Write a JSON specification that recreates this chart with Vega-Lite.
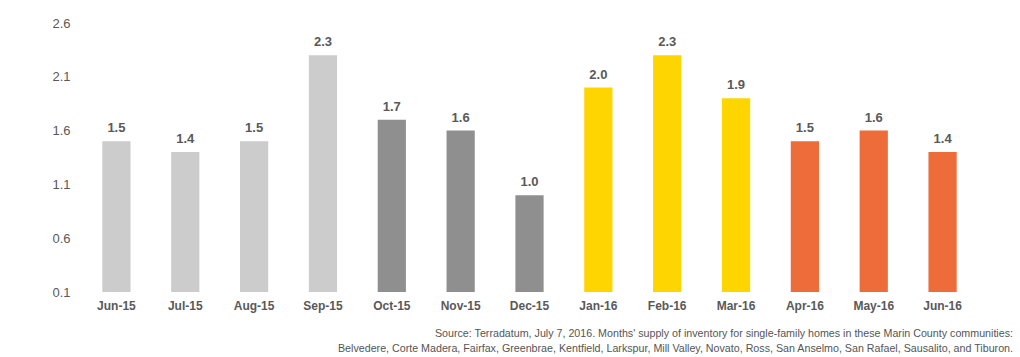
{
  "$schema": "https://vega.github.io/schema/vega-lite/v6.json",
  "autosize": {"type": "none"},
  "padding": {"left": 82, "top": 23, "right": 43, "bottom": 65},
  "width": 895,
  "height": 269,
  "background": "white",
  "config": {"view": {"stroke": null}, "font": "Liberation Sans"},
  "title": {
    "text": ["Source: Terradatum, July 7, 2016. Months' supply of inventory for single-family homes in these Marin County communities:", "Belvedere, Corte Madera, Fairfax, Greenbrae, Kentfield, Larkspur, Mill Valley, Novato, Ross, San Anselmo, San Rafael, Sausalito, and Tiburon."],
    "orient": "bottom",
    "anchor": "end",
    "frame": "group",
    "align": "right",
    "dx": 36,
    "offset": 18,
    "fontSize": 10.7,
    "fontWeight": "normal",
    "color": "#555555",
    "font": "Liberation Sans",
    "lineHeight": 15
  },
  "data": {
    "values": [
      {"month": "Jun-15", "value": 1.5, "group": "a"},
      {"month": "Jul-15", "value": 1.4, "group": "a"},
      {"month": "Aug-15", "value": 1.5, "group": "a"},
      {"month": "Sep-15", "value": 2.3, "group": "a"},
      {"month": "Oct-15", "value": 1.7, "group": "b"},
      {"month": "Nov-15", "value": 1.6, "group": "b"},
      {"month": "Dec-15", "value": 1.0, "group": "b"},
      {"month": "Jan-16", "value": 2.0, "group": "c"},
      {"month": "Feb-16", "value": 2.3, "group": "c"},
      {"month": "Mar-16", "value": 1.9, "group": "c"},
      {"month": "Apr-16", "value": 1.5, "group": "d"},
      {"month": "May-16", "value": 1.6, "group": "d"},
      {"month": "Jun-16", "value": 1.4, "group": "d"}
    ]
  },
  "encoding": {
    "x": {
      "field": "month", "type": "nominal", "sort": null,
      "scale": {"paddingInner": 0.59, "paddingOuter": 0.295},
      "axis": {"title": null, "labelAngle": 0, "domain": false, "ticks": false, "labelPadding": 8, "labelFontSize": 12, "labelFontWeight": "bold", "labelColor": "#595959", "labelFont": "Liberation Sans"}
    },
    "y": {
      "field": "value", "type": "quantitative",
      "scale": {"domain": [0.1, 2.6], "zero": false, "nice": false},
      "axis": {"title": null, "values": [0.1, 0.6, 1.1, 1.6, 2.1, 2.6], "format": ".1f", "grid": false, "domain": false, "ticks": false, "labelPadding": 12, "labelFontSize": 13, "labelColor": "#595959", "labelFont": "Liberation Sans"}
    }
  },
  "layer": [
    {
      "mark": {"type": "bar"},
      "encoding": {
        "y2": {"datum": 0.1},
        "color": {"field": "group", "type": "nominal", "legend": null,
          "scale": {"domain": ["a", "b", "c", "d"], "range": ["#CCCCCC", "#8F8F8F", "#FFD500", "#EE6B3A"]}}
      }
    },
    {
      "mark": {"type": "text", "baseline": "bottom", "dy": -6, "fontSize": 13, "fontWeight": "bold", "color": "#595959", "font": "Liberation Sans"},
      "encoding": {"text": {"field": "value", "type": "quantitative", "format": ".1f"}}
    }
  ]
}
